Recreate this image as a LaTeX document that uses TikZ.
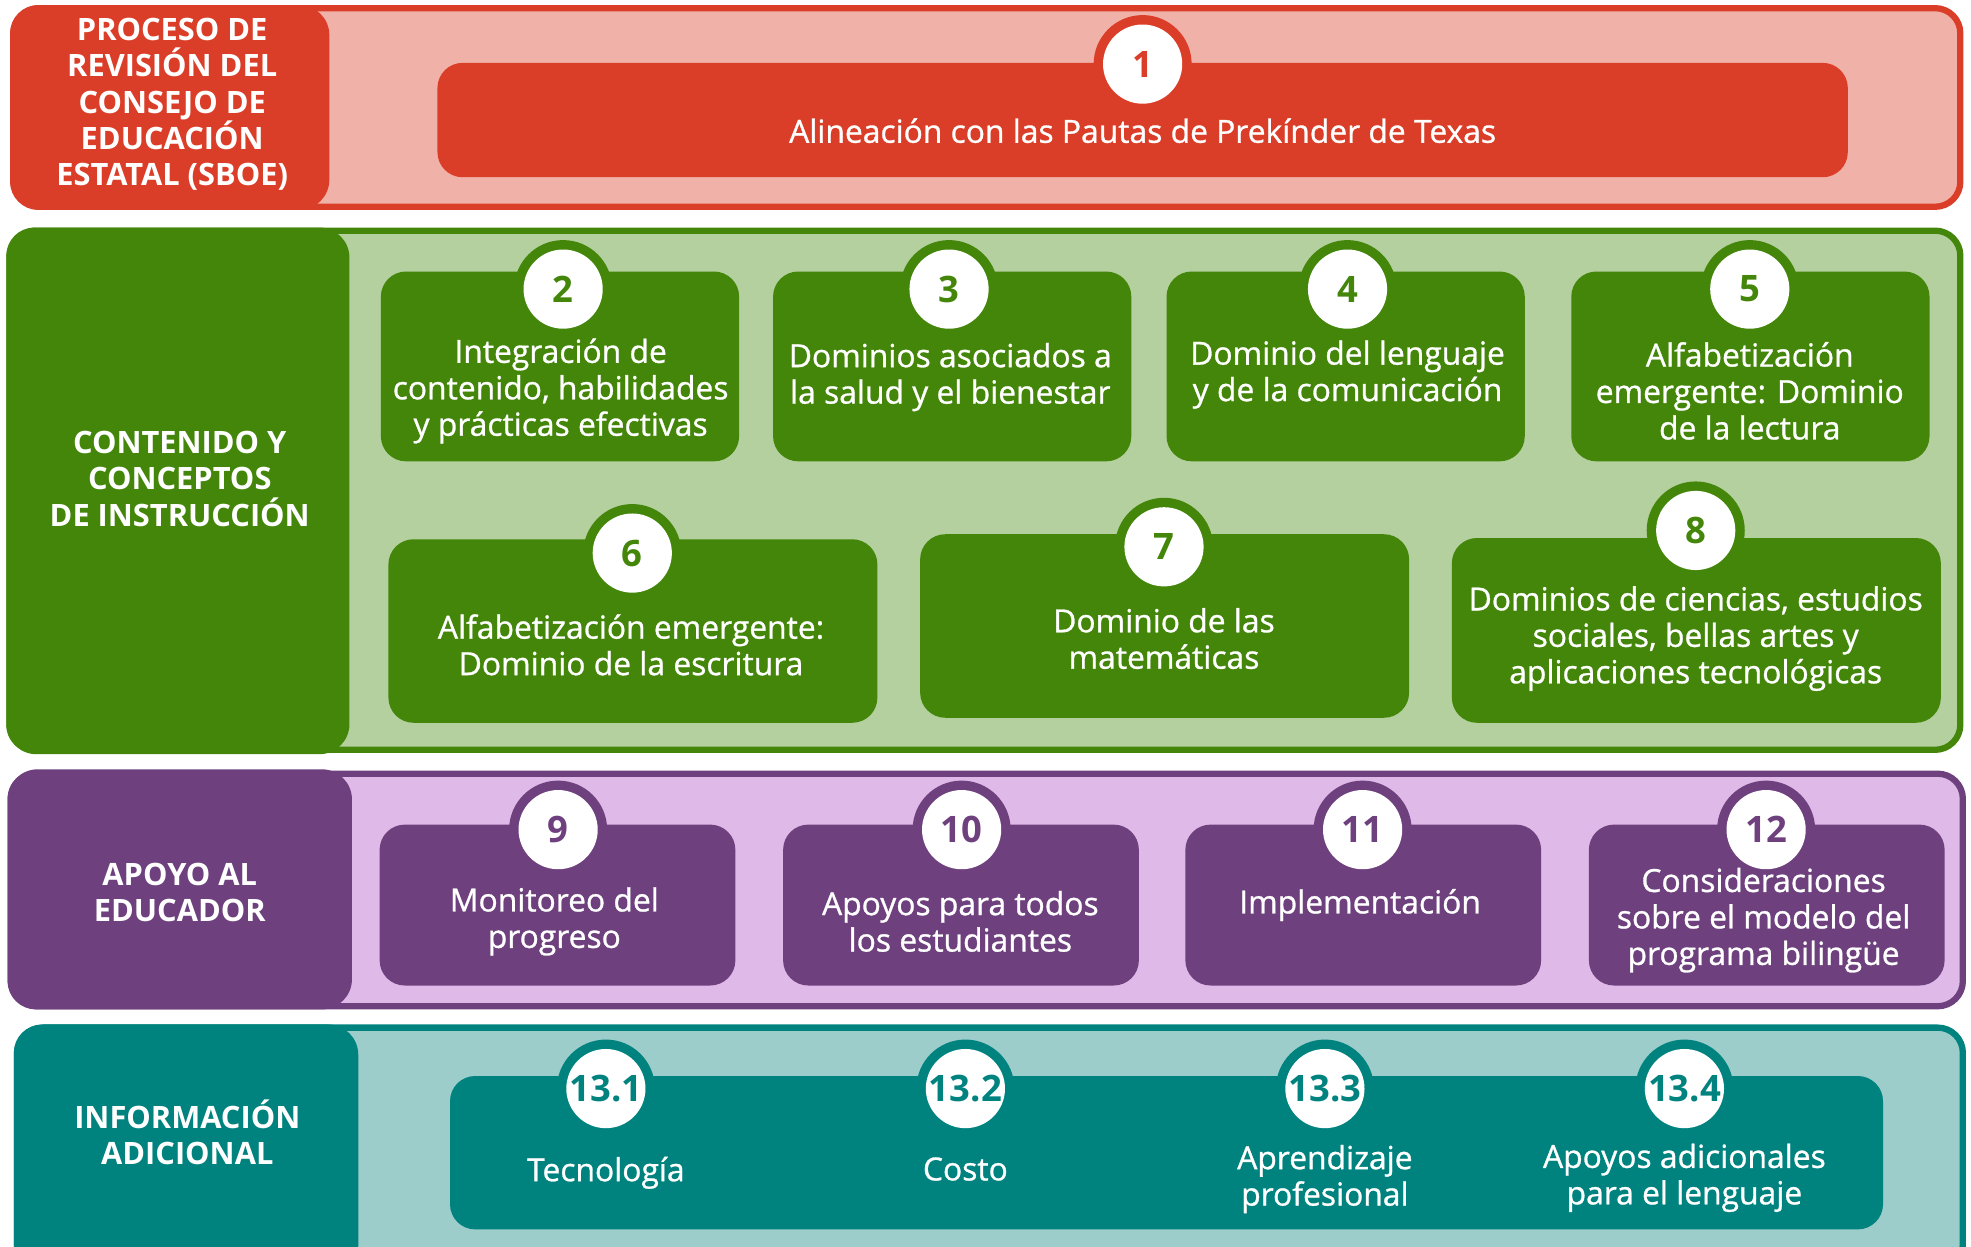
\documentclass[tikz,border=0pt]{standalone}
\usepackage{fontspec}
\setmainfont{Open Sans}
\newfontfamily\semibfont{Open Sans}[FakeBold=0.9]
\definecolor{redD}{HTML}{DB3E28}
\definecolor{redL}{HTML}{F0B1A8}
\definecolor{grnD}{HTML}{43860A}
\definecolor{grnL}{HTML}{B4D09E}
\definecolor{purD}{HTML}{6E417E}
\definecolor{purL}{HTML}{DFB9E7}
\definecolor{tealD}{HTML}{00837F}
\definecolor{tealL}{HTML}{9CCDCB}
\tikzset{
  band/.style={line width=5pt, rounded corners=20pt},
  tabbox/.style={fill=#1, rounded corners=24pt, inner sep=0pt, outer sep=0pt},
  tabtxt/.style={text=white, align=center, inner sep=0pt, font=\fontsize{24.5}{29}\selectfont\bfseries},
  itembox/.style={fill=#1, rounded corners=20pt, inner sep=0pt, outer sep=0pt},
  txt/.style={text=white, align=center, inner sep=0pt, font=\semibfont\fontsize{25.3}{29}\selectfont},
  ring/.style={circle, fill=#1, minimum size=78pt, inner sep=0pt},
  num/.style={circle, fill=white, minimum size=63pt, inner sep=0pt, text=#1, font=\fontsize{29}{30}\selectfont\bfseries},
}
\begin{document}
\begin{tikzpicture}[x=1pt,y=-1pt]
\clip (0,0) rectangle (1568,992);
\fill[white] (0,0) rectangle (1568,992);
% ---------- Band 1 (red)
\draw[band, draw=redD, fill=redL] (10.5,6.5) rectangle (1559.5,164.5);
\node[tabbox=redD, minimum width=254pt, minimum height=163pt] (t1) at (135,85.5) {};
\node[tabtxt] (h1) at (137,83)
  {PROCESO DE\\REVISIÓN DEL\\CONSEJO DE\\EDUCACIÓN\\ESTATAL (SBOE)};
\node[itembox=redD, minimum width=1122pt, minimum height=91pt] (b1) at (909,95.5) {};
\node[ring=redD] (r1) at (909,51) {};
\node[num=redD] (n1) at (909,51) {1};
\node[txt] (l1) at (909,104) {Alineación con las Pautas de Prekínder de Texas};
% ---------- Band 2 (green)
\draw[band, draw=grnD, fill=grnL] (7.5,183.5) rectangle (1559.5,596.5);
\node[tabbox=grnD, minimum width=273pt, minimum height=419pt] (t2) at (141.5,390.5) {};
\node[tabtxt] (h2) at (143,381) {CONTENIDO Y\\CONCEPTOS\\DE INSTRUCCIÓN};
\node[itembox=grnD, minimum width=285pt, minimum height=151pt] (b2) at (445.5,291.5) {};
\node[itembox=grnD, minimum width=285pt, minimum height=151pt] (b3) at (757.5,291.5) {};
\node[itembox=grnD, minimum width=285pt, minimum height=151pt] (b4) at (1070.5,291.5) {};
\node[itembox=grnD, minimum width=285pt, minimum height=151pt] (b5) at (1392.5,291.5) {};
\node[itembox=grnD, minimum width=389pt, minimum height=146pt] (b6) at (503.5,502) {};
\node[itembox=grnD, minimum width=389pt, minimum height=146pt] (b7) at (926.5,498) {};
\node[itembox=grnD, minimum width=389pt, minimum height=147pt] (b8) at (1349.5,501.5) {};
\foreach \n/\x/\y in {2/448/230,3/755/230,4/1072/230,5/1392/230,6/503/440,7/926/435,8/1349/422}{
  \node[ring=grnD] (r\n) at (\x,\y) {};
  \node[num=grnD] (n\n) at (\x,\y) {\n};
}
\node[txt] (l2) at (446,311) {Integración de\\contenido, habilidades\\y prácticas efectivas};
\node[txt] (l3) at (756,300) {Dominios asociados a\\la salud y el bienestar};
\node[txt] (l4) at (1072,298) {Dominio del lenguaje\\y de la comunicación};
\node[txt] (l5) at (1392,311) {Alfabetización\\emergente: Dominio\\de la lectura};
\node[txt] (l6) at (502,513) {Alfabetización emergente:\\Dominio de la escritura};
\node[txt] (l7) at (926,508) {Dominio de las\\matemáticas};
\node[txt] (l8) at (1349,508) {Dominios de ciencias, estudios\\sociales, bellas artes y\\aplicaciones tecnológicas};
% ---------- Band 3 (purple)
\draw[band, draw=purD, fill=purL] (8.5,615.5) rectangle (1561.5,800.5);
\node[tabbox=purD, minimum width=274pt, minimum height=191pt] (t3) at (143,707.5) {};
\node[tabtxt] (h3) at (143,710) {APOYO AL\\EDUCADOR};
\node[itembox=purD, minimum width=283pt, minimum height=128pt] (b9) at (443.5,720) {};
\node[itembox=purD, minimum width=283pt, minimum height=128pt] (b10) at (764.5,720) {};
\node[itembox=purD, minimum width=283pt, minimum height=128pt] (b11) at (1084.5,720) {};
\node[itembox=purD, minimum width=283pt, minimum height=128pt] (b12) at (1405.5,720) {};
\foreach \n/\x in {9/444,10/765,11/1084,12/1405}{
  \node[ring=purD] (r\n) at (\x,660) {};
  \node[num=purD] (n\n) at (\x,660) {\n};
}
\node[txt] (l9) at (441,733) {Monitoreo del\\progreso};
\node[txt] (l10) at (764,733) {Apoyos para todos\\los estudiantes};
\node[txt] (l11) at (1082,720) {Implementación};
\node[txt] (l12) at (1403,732) {Consideraciones\\sobre el modelo del\\programa bilingüe};
% ---------- Band 4 (teal)
\draw[band, draw=tealD, fill=tealL] (13.5,817.5) rectangle (1561.5,1010);
\node[tabbox=tealD, minimum width=274pt, minimum height=200pt] (t4) at (148,915) {};
\node[tabtxt] (h4) at (149,901) {INFORMACIÓN\\ADICIONAL};
\node[itembox=tealD, minimum width=1140pt, minimum height=122pt] (b13) at (928,917) {};
\foreach \n/\x in {1/482,2/768,3/1054,4/1340}{
  \node[ring=tealD] (r13\n) at (\x,866) {};
  \node[num=tealD] (n13\n) at (\x,866) {13.\n};
}
\node[txt] (l131) at (482,933) {Tecnología};
\node[txt] (l132) at (768,930) {Costo};
\node[txt] (l133) at (1054,938) {Aprendizaje\\profesional};
\node[txt] (l134) at (1340,937) {Apoyos adicionales\\para el lenguaje};
\end{tikzpicture}
\end{document}
